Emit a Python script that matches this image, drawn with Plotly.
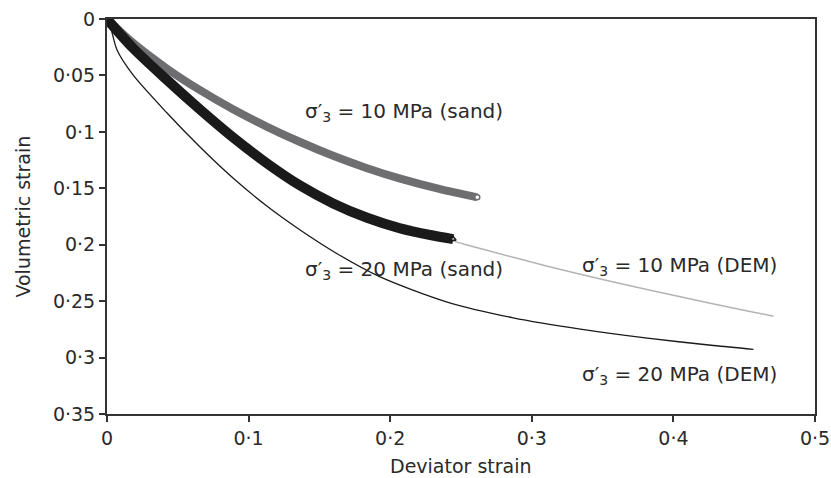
import plotly.graph_objects as go

# Data (deviator strain, volumetric strain)
sand10_x = [0, 0.0184, 0.0424, 0.0657, 0.0890, 0.1131, 0.1364, 0.1597, 0.1837, 0.2071, 0.2353, 0.2615]
sand10_y = [0, 0.0212, 0.0440, 0.0631, 0.0800, 0.0955, 0.1090, 0.1212, 0.1322, 0.1415, 0.1508, 0.1580]

sand20_x = [0, 0.0184, 0.0424, 0.0657, 0.0890, 0.1131, 0.1364, 0.1597, 0.1837, 0.2071, 0.2283, 0.2445]
sand20_y = [0, 0.0258, 0.0541, 0.0802, 0.1049, 0.1280, 0.1476, 0.1634, 0.1761, 0.1855, 0.1914, 0.1950]

dem10_x = [0, 0.0184, 0.0424, 0.0657, 0.0848, 0.1131, 0.1364, 0.1597, 0.1837, 0.2071, 0.2445,
           0.2636, 0.3110, 0.3576, 0.4049, 0.4523, 0.4707]
dem10_y = [0, 0.0257, 0.0514, 0.0771, 0.0983, 0.1249, 0.1454, 0.1608, 0.1733, 0.1830, 0.1968,
           0.2034, 0.2190, 0.2330, 0.2462, 0.2587, 0.2633]

dem20_x = [0, 0.0021, 0.0071, 0.0184, 0.0424, 0.0657, 0.0890, 0.1131, 0.1364, 0.1625, 0.1929,
           0.2403, 0.2869, 0.3343, 0.3816, 0.4283, 0.4565]
dem20_y = [0, 0.0053, 0.0275, 0.0496, 0.0833, 0.1134, 0.1409, 0.1660, 0.1870, 0.2080, 0.2285,
           0.2508, 0.2648, 0.2748, 0.2828, 0.2893, 0.2927]

x_ticks = [0, 0.1, 0.2, 0.3, 0.4, 0.5]
x_ticktext = ["0", "0·1", "0·2", "0·3", "0·4", "0·5"]
y_ticks = [0, 0.05, 0.1, 0.15, 0.2, 0.25, 0.3, 0.35]
y_ticktext = ["0", "0·05", "0·1", "0·15", "0·2", "0·25", "0·3", "0·35"]

x_title = "Deviator strain"
y_title = "Volumetric strain"

labels = [
    ("σ′<sub>3</sub> = 10 MPa (sand)", 0.1385, 0.0824),
    ("σ′<sub>3</sub> = 20 MPa (sand)", 0.1385, 0.2224),
    ("σ′<sub>3</sub> = 10 MPa (DEM)", 0.3343, 0.2189),
    ("σ′<sub>3</sub> = 20 MPa (DEM)", 0.3343, 0.3154),
]

FONT = "DejaVu Sans, Liberation Sans, Arial"
TXT = "#2a2a2a"

fig = go.Figure()
fig.add_trace(go.Scatter(x=dem10_x, y=dem10_y, mode="lines",
                         line=dict(color="#b4b4b4", width=1.5, shape="spline", smoothing=0.8)))
fig.add_trace(go.Scatter(x=sand10_x, y=sand10_y, mode="lines",
                         line=dict(color="#6e6e70", width=8, shape="spline", smoothing=0.8)))
fig.add_trace(go.Scatter(x=sand20_x, y=sand20_y, mode="lines",
                         line=dict(color="#1a1a1a", width=10, shape="spline", smoothing=0.8)))
fig.add_trace(go.Scatter(x=dem20_x, y=dem20_y, mode="lines",
                         line=dict(color="#1a1a1a", width=1.3, shape="spline", smoothing=0.8)))
fig.add_trace(go.Scatter(x=[sand10_x[-1]], y=[sand10_y[-1]], mode="markers",
                         marker=dict(color="white", size=5, line=dict(color="#6e6e70", width=1.5))))
fig.add_trace(go.Scatter(x=[sand20_x[-1]], y=[sand20_y[-1]], mode="markers",
                         marker=dict(color="white", size=5, symbol="triangle-up",
                                     line=dict(color="#1a1a1a", width=1.5))))

for text, lx, ly in labels:
    fig.add_annotation(x=lx, y=ly, text=text, showarrow=False, xanchor="left", yanchor="middle",
                       font=dict(family=FONT, size=20, color=TXT))

# Axis titles as paper-anchored annotations
fig.add_annotation(x=0.5, y=-0.1316, xref="paper", yref="paper", text=x_title,
                   showarrow=False, xanchor="center", yanchor="middle",
                   font=dict(family=FONT, size=19, color=TXT))
fig.add_annotation(x=-0.12, y=0.5, xref="paper", yref="paper", text=y_title, textangle=-90,
                   showarrow=False, xanchor="center", yanchor="middle",
                   font=dict(family=FONT, size=19, color=TXT))

axis_common = dict(showgrid=False, zeroline=False, mirror=True, showline=True,
                   linecolor="#333333", linewidth=2, ticks="outside", ticklen=6,
                   tickcolor="#333333", tickwidth=1.5, automargin=False,
                   tickfont=dict(family=FONT, size=19, color=TXT))

fig.update_xaxes(range=[0, 0.5], tickvals=x_ticks, ticktext=x_ticktext, **axis_common)
fig.update_yaxes(range=[0.35, 0], tickvals=y_ticks, ticktext=y_ticktext, **axis_common)

fig.update_layout(width=831, height=478, showlegend=False,
                  margin=dict(l=107, r=16, t=19, b=64),
                  plot_bgcolor="white", paper_bgcolor="white")

fig.write_html("out.html")
